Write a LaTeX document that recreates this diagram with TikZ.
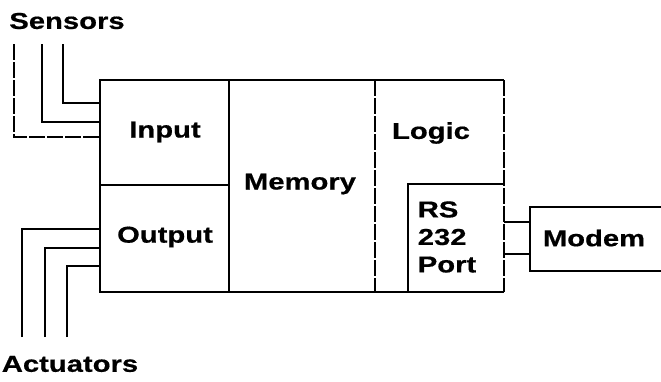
\documentclass[tikz,border=0pt]{standalone}
\usepackage{fontspec}
\newfontfamily\lblfont{Liberation Sans}[FakeStretch=1.27,FakeBold=0.6]
\begin{document}
\begin{tikzpicture}[x=1pt,y=-1pt,
  line width=2pt, line join=miter,
  lbl/.style={font=\lblfont\bfseries\fontsize{23}{27.5}\selectfont, inner sep=0pt},
  area/.style={rectangle, inner sep=0pt, anchor=north west},
  brk/.style={dash pattern=on 16pt off 2pt}]
\useasboundingbox (0,0) rectangle (661,381);
% areas (named, undrawn)
\node[area, minimum width=127pt, minimum height=103pt] (input) at (100,80) {};
\node[area, minimum width=127pt, minimum height=107pt] (output) at (100,183) {};
\node[area, minimum width=146pt, minimum height=210pt] (memory) at (227,80) {};
\node[area, minimum width=129pt, minimum height=210pt] (logic) at (373,80) {};
\node[area, minimum width=94pt, minimum height=106pt] (rs) at (408,184) {};
\node[area, minimum width=140pt, minimum height=62pt] (modem) at (530,207) {};
% outline
\draw (input.north east) -- (input.north west) -- (output.south west) -- (rs.south east);
\draw (input.north east) -- (logic.north east);
\draw[brk] (logic.north east) -- (logic.south east);
\draw (input.south west) -- (input.south east);
\draw (input.north east) -- (output.south east);
\draw[brk] (memory.north east) -- (memory.south east);
\draw (rs.south west) -- (rs.north west) -- (rs.north east);
% modem box (open at right)
\draw (modem.north east) -- (modem.north west) -- (modem.south west) -- (modem.south east);
% labels
\node[lbl] (sensors) at (67,21) {Sensors};
\node[lbl] (actuators) at (70,364) {Actuators};
\node[lbl] (inputlbl) at (165,132) {Input};
\node[lbl] (outputlbl) at (165,237) {Output};
\node[lbl] (memorylbl) at (300,184) {Memory};
\node[lbl] (logiclbl) at (431,133) {Logic};
\node[lbl, align=left] (rslbl) at (447,237) {RS\\232\\Port};
\node[lbl] (modemlbl) at (594,238) {Modem};
% sensor lines
\coordinate (s1) at (14,44);
\coordinate (s2) at (42,44);
\coordinate (s3) at (63,44);
\draw[brk] (s1) |- (input.west |- 0,137);
\draw (s2) |- (input.west |- 0,122);
\draw (s3) |- (input.west |- 0,103);
% actuator lines
\coordinate (a1) at (22,337);
\coordinate (a2) at (45,337);
\coordinate (a3) at (67,337);
\draw (a1) |- (output.west |- 0,229);
\draw (a2) |- (output.west |- 0,248);
\draw (a3) |- (output.west |- 0,266);
% RS232 to modem
\draw (rs.east |- 0,222) -- (modem.west |- 0,222);
\draw (rs.east |- 0,254) -- (modem.west |- 0,254);
\end{tikzpicture}
\end{document}
